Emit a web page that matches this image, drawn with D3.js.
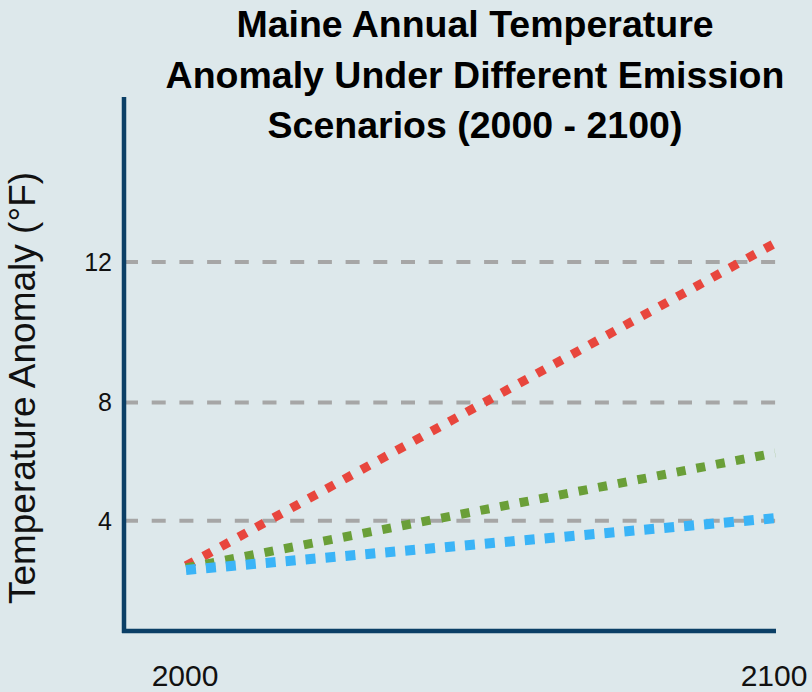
<!DOCTYPE html>
<html>
<head>
<meta charset="utf-8">
<script src="https://cdn.jsdelivr.net/npm/d3@7"></script>
<style>
  html, body { margin: 0; padding: 0; background: #dde8eb; }
  svg { display: block; font-family: "Liberation Sans", Arial, sans-serif; }
</style>
</head>
<body>
<div id="chart"></div>
<script>
// --- DATA ---
const years = [2000, 2100];
const scenarios = ["High emissions", "Intermediate emissions", "Low emissions"];
const highValues = [2.1, 12.5];
const midValues = [2.0, 6.4];
const lowValues = [1.9, 4.1];
const seriesColors = ["#e8463d", "#6a9f38", "#3ab4f7"];
const yTicks = [4, 8, 12];
const titleLines = ["Maine Annual Temperature", "Anomaly Under Different Emission", "Scenarios (2000 - 2100)"];
const yLabel = "Temperature Anomaly (°F)";

const width = 812, height = 692;
const plotLeft = 124, plotRight = 776, plotTop = 97, plotBottom = 631;

const svg = d3.select("#chart").append("svg")
    .attr("width", width).attr("height", height);

svg.append("rect").attr("width", width).attr("height", height).attr("fill", "#dde8eb");

const x = d3.scaleLinear().domain(d3.extent(years)).range([186, 775]);
// gridlines in the original are not evenly spaced; a power scale fits them
const y = d3.scalePow().exponent(1.33).domain([0, 12]).range([599, 262]);

// gridlines
svg.append("g")
  .selectAll("line")
  .data(yTicks)
  .join("line")
    .attr("x1", plotLeft).attr("x2", plotRight)
    .attr("y1", d => y(d)).attr("y2", d => y(d))
    .attr("stroke", "#a6a6a6")
    .attr("stroke-width", 4)
    .attr("stroke-dasharray", "14,13.7");

// tick labels
svg.append("g")
  .selectAll("text")
  .data(yTicks)
  .join("text")
    .attr("x", 112).attr("y", d => y(d))
    .attr("dy", "0.36em")
    .attr("text-anchor", "end")
    .style("font-size", "25px")
    .attr("fill", "#111")
    .text(d => d);

svg.append("g")
  .selectAll("text")
  .data(years)
  .join("text")
    .attr("x", d => x(d) - 1).attr("y", 685.5)
    .attr("text-anchor", "middle")
    .style("font-size", "30px")
    .attr("fill", "#111")
    .text(d => d);

// lines
const series = [highValues, midValues, lowValues].map((vals, i) => ({
    name: scenarios[i], color: seriesColors[i],
    points: years.map((yr, j) => [yr, vals[j]])
}));

const line = d3.line().x(d => x(d[0])).y(d => y(d[1]));

svg.append("g")
  .selectAll("path")
  .data(series)
  .join("path")
    .attr("d", d => line(d.points))
    .attr("fill", "none")
    .attr("stroke", d => d.color)
    .attr("stroke-width", (d, i) => i === 2 ? 10 : 9)
    .attr("stroke-dasharray", (d, i) => i === 2 ? "10,10" : "9,11");

// axes lines
svg.append("line")
    .attr("x1", plotLeft).attr("x2", plotLeft).attr("y1", plotTop).attr("y2", plotBottom + 2)
    .attr("stroke", "#0b3f66").attr("stroke-width", 4.5);
svg.append("line")
    .attr("x1", plotLeft - 2).attr("x2", plotRight).attr("y1", plotBottom).attr("y2", plotBottom)
    .attr("stroke", "#0b3f66").attr("stroke-width", 4.5);

// title
svg.append("text")
    .attr("text-anchor", "middle")
    .style("font-size", "37.5px").style("font-weight", "bold")
    .attr("fill", "#000")
  .selectAll("tspan")
  .data(titleLines)
  .join("tspan")
    .attr("x", 475)
    .attr("y", (d, i) => 37 + i * 50.5)
    .text(d => d);

// y label
svg.append("text")
    .attr("transform", "translate(35,388) rotate(-90)")
    .attr("text-anchor", "middle")
    .style("font-size", "37px")
    .attr("fill", "#111")
    .text(yLabel);
</script>
</body>
</html>
